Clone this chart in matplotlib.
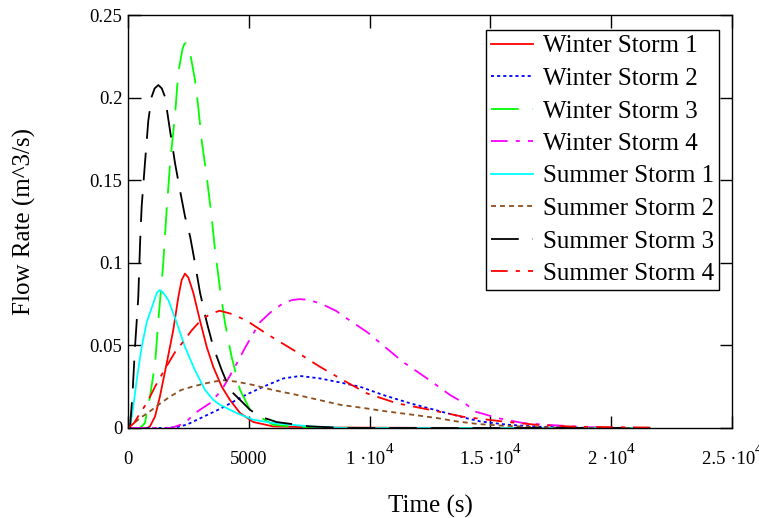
import matplotlib
matplotlib.use("Agg")
import matplotlib.pyplot as plt
from matplotlib.transforms import offset_copy

plt.rcParams['font.family'] = ['Liberation Serif', 'DejaVu Serif']
plt.rcParams['lines.scale_dashes'] = False

# hydrographs, time in s and flow in m^3/s
t_w1 = [0, 500, 800, 910, 1120, 1320, 1600, 1870, 2080, 2220, 2360, 2500, 2700, 2980, 3260, 3530, 3880, 4220, 4640, 5190, 6000, 8000, 12000, 16000, 21600]
q_w1 = [0, 0, 0, 0.001, 0.007, 0.019, 0.039, 0.059, 0.079, 0.0895, 0.0935, 0.091, 0.082, 0.065, 0.049, 0.037, 0.025, 0.017, 0.009, 0.0036, 0.001, 0.0003, 0.0001, 0, 0]

t_w2 = [0, 1500, 2000, 2430, 3150, 3870, 4800, 5600, 6430, 7120, 7950, 8800, 9600, 10560, 11670, 13200, 14000, 14570, 15690, 17000, 18500, 21600]
q_w2 = [0, 0, 0.0005, 0.002, 0.007, 0.012, 0.0195, 0.025, 0.030, 0.0315, 0.030, 0.0275, 0.025, 0.020, 0.015, 0.009, 0.006, 0.004, 0.002, 0.0008, 0.0002, 0]

t_w3 = [0, 500, 700, 910, 1120, 1255, 1460, 1600, 1740, 1950, 2080, 2250, 2330, 2400, 2480, 2570, 2770, 2910, 3050, 3260, 3460, 3600, 3810, 4010, 4290, 4640, 5050, 5460, 6000, 7000, 10000, 21600]
q_w3 = [0, 0, 0.003, 0.019, 0.039, 0.065, 0.100, 0.132, 0.160, 0.190, 0.215, 0.229, 0.2325, 0.233, 0.2315, 0.227, 0.211, 0.194, 0.174, 0.152, 0.128, 0.108, 0.084, 0.064, 0.043, 0.023, 0.011, 0.0067, 0.002, 0.0005, 0, 0]

t_w4 = [0, 1800, 2360, 2770, 3390, 3880, 4350, 4900, 5460, 5900, 6420, 6800, 7120, 7500, 8030, 8600, 9190, 9900, 10560, 11380, 12380, 13330, 14030, 14360, 15300, 16350, 17260, 19000, 21000]
q_w4 = [0, 0, 0.003, 0.009, 0.015, 0.023, 0.035, 0.050, 0.064, 0.070, 0.0755, 0.0775, 0.078, 0.0775, 0.075, 0.071, 0.065, 0.058, 0.050, 0.040, 0.030, 0.020, 0.014, 0.010, 0.006, 0.003, 0.002, 0.0005, 0]

t_s1 = [0, 80, 220, 360, 565, 775, 1050, 1200, 1320, 1450, 1670, 2010, 2360, 2770, 3190, 3530, 3810, 4500, 5190, 6000, 7500, 9000, 21600]
q_s1 = [0, 0, 0.013, 0.029, 0.049, 0.064, 0.0757, 0.082, 0.0835, 0.082, 0.0775, 0.064, 0.049, 0.035, 0.023, 0.017, 0.014, 0.009, 0.005, 0.003, 0.001, 0, 0]

t_s2 = [0, 250, 500, 900, 1255, 1740, 2200, 2650, 3200, 3900, 4500, 5200, 6000, 7000, 7900, 8800, 9800, 10720, 11800, 12800, 13600, 14500, 15500, 17000, 18500, 21600]
q_s2 = [0, 0.003, 0.006, 0.010, 0.014, 0.019, 0.023, 0.025, 0.027, 0.029, 0.028, 0.026, 0.023, 0.020, 0.017, 0.014, 0.012, 0.010, 0.008, 0.006, 0.004, 0.0024, 0.0014, 0.0005, 0, 0]

t_s3 = [0, 80, 180, 290, 425, 500, 565, 700, 840, 980, 1100, 1255, 1400, 1530, 1740, 1950, 2150, 2360, 2570, 2770, 2980, 3260, 3530, 3880, 4220, 4640, 5050, 5460, 6150, 7500, 9000, 21600]
q_s3 = [0, 0, 0.019, 0.049, 0.079, 0.112, 0.134, 0.160, 0.186, 0.2005, 0.2055, 0.2076, 0.2055, 0.2005, 0.180, 0.160, 0.144, 0.128, 0.116, 0.100, 0.082, 0.064, 0.049, 0.035, 0.023, 0.017, 0.011, 0.007, 0.0036, 0.001, 0, 0]

t_s4 = [0, 250, 500, 775, 1120, 1500, 1950, 2220, 2630, 3000, 3400, 3800, 4300, 4910, 5740, 6980, 7950, 8900, 9880, 11120, 12500, 13870, 15600, 17000, 18500, 20000, 21600]
q_s4 = [0, 0.003, 0.009, 0.015, 0.025, 0.035, 0.046, 0.051, 0.059, 0.065, 0.069, 0.071, 0.069, 0.065, 0.057, 0.046, 0.037, 0.029, 0.021, 0.015, 0.011, 0.0068, 0.0038, 0.0018, 0.0008, 0.0005, 0.0003]

long_dash = (0, (20, 10))
dash_dot = (0, (12, 5.8, 3, 5.8))
series = [
    ("Winter Storm 1", t_w1, q_w1, "#ff0000", "-"),
    ("Winter Storm 2", t_w2, q_w2, "#0000ff", (0, (2.2, 2.2))),
    ("Winter Storm 3", t_w3, q_w3, "#00ff00", long_dash),
    ("Winter Storm 4", t_w4, q_w4, "#ff00ff", dash_dot),
    ("Summer Storm 1", t_s1, q_s1, "#00ffff", "-"),
    ("Summer Storm 2", t_s2, q_s2, "#8c5020", (0, (3.6, 2.9))),
    ("Summer Storm 3", t_s3, q_s3, "#000000", long_dash),
    ("Summer Storm 4", t_s4, q_s4, "#ff0000", dash_dot),
]

x_ticks = [0, 5000, 10000, 15000, 20000, 25000]
x_base = ["0", "5000", "1 \u00b710", "1.5 \u00b710", "2 \u00b710", "2.5 \u00b710"]
x_exp = ["", "", "4", "4", "4", "4"]
y_ticks = [0, 0.05, 0.1, 0.15, 0.2, 0.25]
y_labels = ["0", "0.05", "0.1", "0.15", "0.2", "0.25"]

fig = plt.figure(figsize=(7.59, 5.18), dpi=100)
ax = fig.add_axes([128 / 759, 1 - 428 / 518, 604 / 759, 413 / 518])

for name, t, q, color, ls in series:
    ax.plot(t, q, color=color, linestyle=ls, linewidth=1.3, label=name)

ax.set_xlim(0, 25000)
ax.set_ylim(0, 0.25)
ax.set_xticks(x_ticks, [""] * len(x_ticks))
ax.set_yticks(y_ticks, y_labels)
ax.tick_params(direction='in', length=9, width=1, top=True, right=True,
               labelsize=13.5, colors='black')
ax.tick_params(axis='y', pad=4)
for sp in ax.spines.values():
    sp.set_linewidth(1.0)

# x tick labels written as mantissa and a raised exponent
renderer = fig.canvas.get_renderer()
xtrans = ax.get_xaxis_transform()
for xv, base, ex in zip(x_ticks, x_base, x_exp):
    tb = ax.text(xv, 0, base, transform=xtrans, fontsize=13.5, ha='left', va='baseline')
    ts = ax.text(xv, 0, ex, transform=xtrans, fontsize=11, ha='left', va='baseline')
    wb = tb.get_window_extent(renderer).width
    ws = ts.get_window_extent(renderer).width if ex else 0
    total = wb + ws
    tb.set_transform(offset_copy(xtrans, fig, x=-total / 2, y=-36, units='dots'))
    ts.set_transform(offset_copy(xtrans, fig, x=-total / 2 + wb, y=-36 + 11, units='dots'))

ax.set_xlabel("Time (s)", fontsize=18, va='baseline')
ax.xaxis.set_label_coords(0.5, -(513 - 428) / 413)
ax.set_ylabel("Flow Rate (m^3/s)", fontsize=18, va='center')
ax.yaxis.set_label_coords(-(128 - 24) / 604, 0.5)

leg = ax.legend(loc='upper right', bbox_to_anchor=((719 - 128) / 604, (428 - 30) / 413),
                borderaxespad=0, fontsize=18, frameon=True, fancybox=False,
                framealpha=1, edgecolor='black', handlelength=1.68,
                handletextpad=0.4, borderpad=0.2, labelspacing=0.4)
leg.get_frame().set_linewidth(1.0)

fig.savefig("out.png", dpi=100)
